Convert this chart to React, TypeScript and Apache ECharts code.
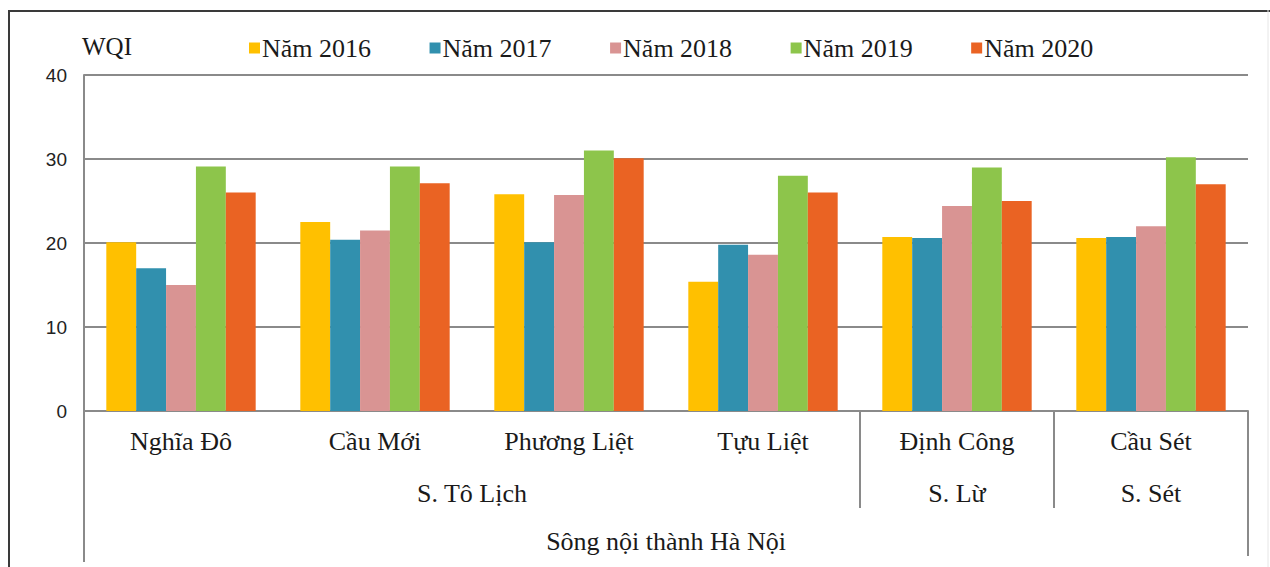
import React, { useEffect, useRef } from "react";
import * as echarts from "echarts";

const categories = ["Nghĩa Đô", "Cầu Mới", "Phương Liệt", "Tựu Liệt", "Định Công", "Cầu Sét"];
const seriesNames = ["Năm 2016", "Năm 2017", "Năm 2018", "Năm 2019", "Năm 2020"];
const y2016 = [20.1, 22.5, 25.8, 15.4, 20.7, 20.6];
const y2017 = [17.0, 20.4, 20.1, 19.8, 20.6, 20.7];
const y2018 = [15.0, 21.5, 25.7, 18.6, 24.4, 22.0];
const y2019 = [29.1, 29.1, 31.0, 28.0, 29.0, 30.2];
const y2020 = [26.0, 27.1, 30.1, 26.0, 25.0, 27.0];
const rivers = [
  { name: "S. Tô Lịch", from: 0, to: 3 },
  { name: "S. Lừ", from: 4, to: 4 },
  { name: "S. Sét", from: 5, to: 5 },
];
const topGroup = "Sông nội thành Hà Nội";
const yTicks = { min: 0, max: 40, interval: 10 };
const yName = "WQI";

const colors = ["#FFC000", "#3190AE", "#D99493", "#8DC54B", "#EA6323"];
const serif = "'Liberation Serif', 'Times New Roman', serif";
const sans = "'Liberation Sans', Arial, sans-serif";

export default function App() {
  const ref = useRef<HTMLDivElement>(null);
  useEffect(() => {
    if (!ref.current) return;
    const chart = echarts.init(ref.current, null, { renderer: "svg" });
    const values = [y2016, y2017, y2018, y2019, y2020];
    const gridLeft = 84;
    const gridRight = 22;
    const gridTop = 75;
    const gridBottom = 156;
    chart.setOption({
      animation: false,
      backgroundColor: "#ffffff",
      color: colors,
      legend: {
        left: 244,
        top: 30,
        itemWidth: 11,
        itemHeight: 11,
        itemGap: 58.5,
        icon: "rect",
        textStyle: { fontFamily: serif, fontSize: 26, color: "#1a1a1a", padding: [0, 0, 0, -3] },
        data: seriesNames,
      },
      grid: { left: gridLeft, right: gridRight, top: gridTop, bottom: gridBottom },
      xAxis: {
        type: "category",
        data: categories,
        axisTick: { show: false },
        axisLine: { show: true, lineStyle: { color: "#8a8a8a", width: 2 } },
        axisLabel: { fontFamily: serif, fontSize: 26, color: "#1a1a1a", margin: 17 },
      },
      yAxis: {
        type: "value",
        min: yTicks.min,
        max: yTicks.max,
        interval: yTicks.interval,
        axisLine: { show: true, lineStyle: { color: "#8a8a8a", width: 2 } },
        axisTick: { show: false },
        splitLine: { lineStyle: { color: "#8a8a8a", width: 2 } },
        axisLabel: { fontFamily: sans, fontSize: 19, color: "#222", margin: 17 },
      },
      series: seriesNames.map((n, i) => ({
        name: n,
        type: "bar",
        data: values[i],
        barGap: "0%",
        barCategoryGap: "23%",
        itemStyle: { color: colors[i] },
      })),
    });

    const px = (v: number) => chart.convertToPixel({ xAxisIndex: 0 }, v) as number;
    const py = (v: number) => chart.convertToPixel({ yAxisIndex: 0 }, v) as number;
    const half = (px(1) - px(0)) / 2;
    const x0 = py(0);
    const leftEdge = px(0) - half;
    const rightEdge = px(categories.length - 1) + half;
    const lineStyle = { stroke: "#8a8a8a", lineWidth: 2 };
    const textStyle = (t: string, x: number, y: number) => ({
      type: "text",
      x,
      y,
      style: {
        text: t,
        fontFamily: serif,
        fontSize: 26,
        fill: "#1a1a1a",
        align: "center",
        verticalAlign: "middle",
      },
    });
    const graphics: any[] = [
      // outer frame
      { type: "line", shape: { x1: 8, y1: 11, x2: 1270, y2: 11 }, style: { stroke: "#3a3a3a", lineWidth: 2 } },
      { type: "line", shape: { x1: 9, y1: 10, x2: 9, y2: 567 }, style: { stroke: "#3a3a3a", lineWidth: 2 } },
      { type: "line", shape: { x1: 1268, y1: 10, x2: 1268, y2: 567 }, style: { stroke: "#e6e6e6", lineWidth: 1 } },
      // y-axis name
      {
        type: "text",
        x: gridLeft - 2,
        y: 46,
        style: { text: yName, fontFamily: serif, fontSize: 25, fill: "#1a1a1a", align: "left", verticalAlign: "middle" },
      },
      // outer vertical lines of the category table
      { type: "line", shape: { x1: leftEdge, y1: x0, x2: leftEdge, y2: 562 }, style: lineStyle },
      { type: "line", shape: { x1: rightEdge, y1: x0, x2: rightEdge, y2: 556 }, style: lineStyle },
      textStyle(topGroup, (leftEdge + rightEdge) / 2, x0 + 130),
    ];
    rivers.forEach((r, i) => {
      const a = px(r.from) - half;
      const b = px(r.to) + half;
      graphics.push(textStyle(r.name, (a + b) / 2, x0 + 82));
      if (i > 0) {
        graphics.push({ type: "line", shape: { x1: a, y1: x0, x2: a, y2: x0 + 97 }, style: lineStyle });
      }
    });
    chart.setOption({ graphic: graphics });
    return () => chart.dispose();
  }, []);
  return (
    <div
      ref={ref}
      style={{ position: "fixed", left: 0, top: 0, width: 1270, height: 567, background: "#fff" }}
    />
  );
}
